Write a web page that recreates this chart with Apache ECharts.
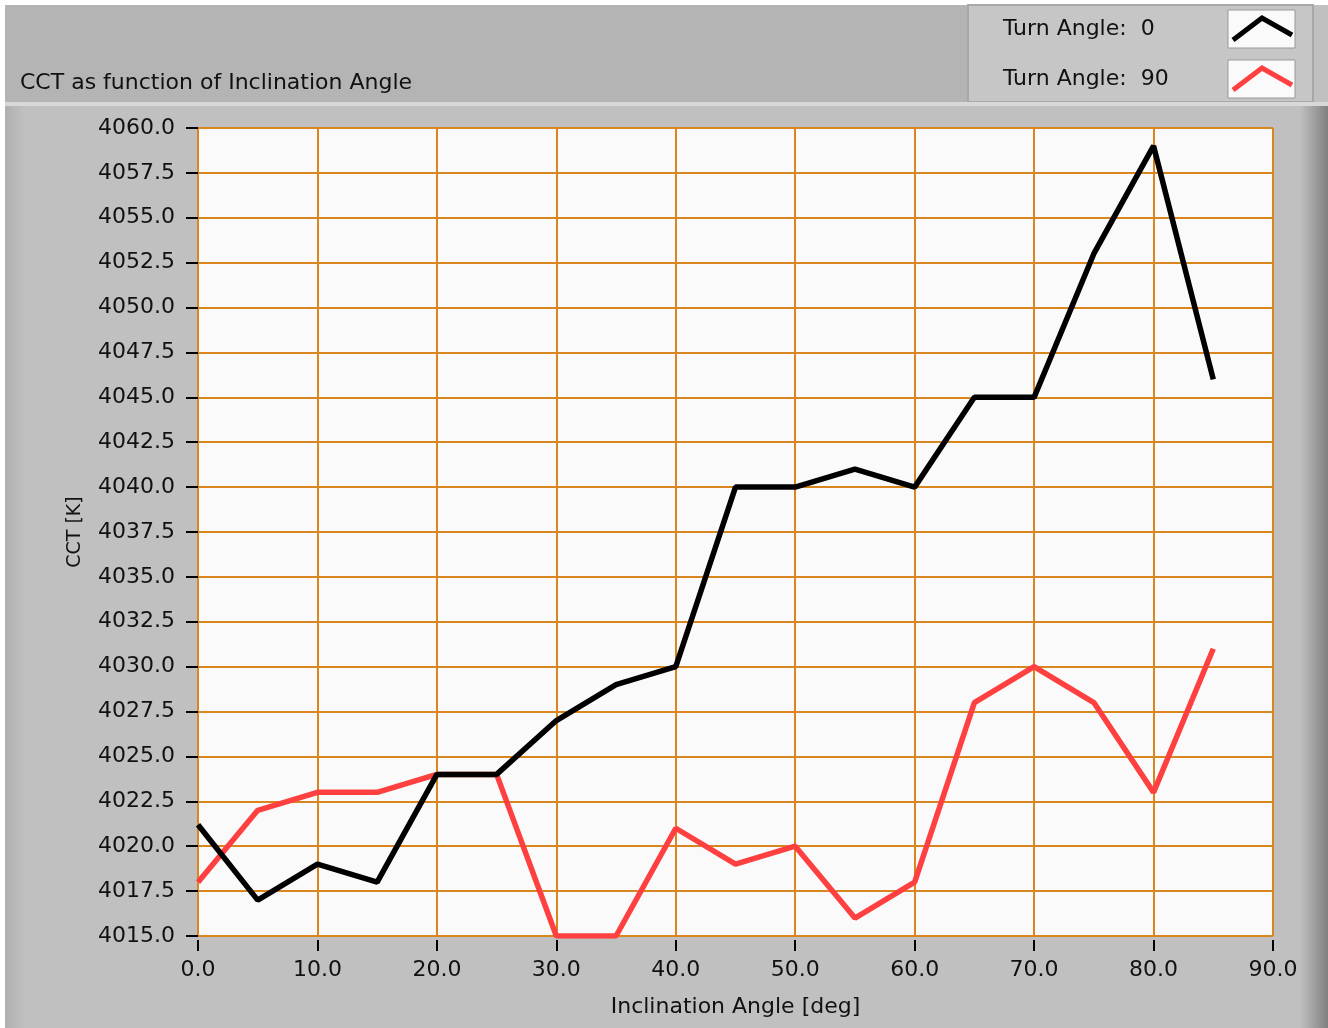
<!DOCTYPE html>
<html><head><meta charset="utf-8">
<script src="https://cdn.jsdelivr.net/npm/echarts@6/dist/echarts.min.js"></script>
<style>html,body{margin:0;padding:0;background:#fff}#c{width:1328px;height:1028px}</style>
</head><body><div id="c"></div>
<script>
const inclination = [0,5,10,15,20,25,30,35,40,45,50,55,60,65,70,75,80,85];
const turn0 = [4021.2,4017,4019,4018,4024,4024,4027,4029,4030,4040,4040,4041,4040,4045,4045,4053,4059,4046];
const turn90 = [4018,4022,4023,4023,4024,4024,4015,4015,4021,4019,4020,4016,4018,4028,4030,4028,4023,4031];
const seriesNames = ['Turn Angle:  0','Turn Angle:  90'];
const FONT = 'DejaVu Sans';
const chart = echarts.init(document.getElementById('c'));
const pair = (ys) => inclination.map((x,i)=>[x,ys[i]]);
chart.setOption({
  backgroundColor:'#ffffff',
  animation:false,
  graphic:[
    {type:'rect',z:-10,shape:{x:5,y:5,width:1323,height:1023},style:{fill:'#c0c0c0'}},
    {type:'rect',z:-9,shape:{x:5,y:5,width:963,height:97},style:{fill:'#b4b4b4'}},
    {type:'rect',z:-9,shape:{x:968,y:5,width:345,height:97},style:{fill:'#c6c6c6',stroke:'#a8a8a8',lineWidth:2}},
    {type:'rect',z:-9,shape:{x:5,y:102,width:1323,height:4},style:{fill:'#d8d8d8'}},
    {type:'rect',z:-9,shape:{x:5,y:106,width:20,height:922},style:{fill:{type:'linear',x:0,y:0,x2:1,y2:0,colorStops:[{offset:0,color:'#b0b0b0'},{offset:1,color:'#c0c0c0'}]}}},
    {type:'rect',z:-9,shape:{x:1300,y:106,width:28,height:922},style:{fill:{type:'linear',x:0,y:0,x2:1,y2:0,colorStops:[{offset:0,color:'#c0c0c0'},{offset:1,color:'#808080'}]}}},
    {type:'text',left:20,top:72,style:{text:'CCT as function of Inclination Angle',font:'22px "DejaVu Sans"',fill:'#111'}},
    {type:'text',left:1003,top:18,style:{text:seriesNames[0],font:'22px "DejaVu Sans"',fill:'#111'}},
    {type:'text',left:1003,top:68,style:{text:seriesNames[1],font:'22px "DejaVu Sans"',fill:'#111'}},
    {type:'rect',shape:{x:1228,y:10,width:67,height:38},style:{fill:'#fafafa',stroke:'#999',lineWidth:1}},
    {type:'rect',shape:{x:1228,y:60,width:67,height:38},style:{fill:'#fafafa',stroke:'#999',lineWidth:1}},
    {type:'polyline',shape:{points:[[1233,40],[1262,18],[1292,35]]},style:{stroke:'#000',lineWidth:5,fill:null}},
    {type:'polyline',shape:{points:[[1233,90],[1262,68],[1292,85]]},style:{stroke:'#ff4040',lineWidth:5,fill:null}}
  ],
  grid:{left:198,top:128,width:1075,height:808,show:true,backgroundColor:'#fafafa',borderColor:'#d0d0d0',borderWidth:1},
  xAxis:{type:'value',min:0,max:90,interval:10,offset:4,
    name:'Inclination Angle [deg]',nameLocation:'middle',nameGap:56,
    nameTextStyle:{fontFamily:FONT,fontSize:22,color:'#111'},
    axisLine:{show:false},
    axisTick:{show:true,length:11,lineStyle:{color:'#000',width:2}},
    axisLabel:{fontFamily:FONT,fontSize:22,color:'#111',margin:19,formatter:v=>v.toFixed(1)},
    splitLine:{show:true,lineStyle:{color:'#d9861e',width:2}}},
  yAxis:{type:'value',min:4015,max:4060,interval:2.5,offset:3,
    name:'CCT [K]',nameLocation:'middle',nameGap:110,nameRotate:90,
    nameTextStyle:{fontFamily:FONT,fontSize:19,color:'#111'},
    axisLine:{show:false},
    axisTick:{show:true,length:12,lineStyle:{color:'#000',width:2}},
    axisLabel:{fontFamily:FONT,fontSize:22,color:'#111',margin:20,formatter:v=>v.toFixed(1)},
    splitLine:{show:true,lineStyle:{color:'#d9861e',width:2}}},
  series:[
    {name:seriesNames[0],type:'line',data:pair(turn0),showSymbol:false,lineStyle:{color:'#000',width:5.5},itemStyle:{color:'#000'},z:3},
    {name:seriesNames[1],type:'line',data:pair(turn90),showSymbol:false,lineStyle:{color:'#ff4040',width:5.5},itemStyle:{color:'#ff4040'},z:2}
  ]
});
</script></body></html>
